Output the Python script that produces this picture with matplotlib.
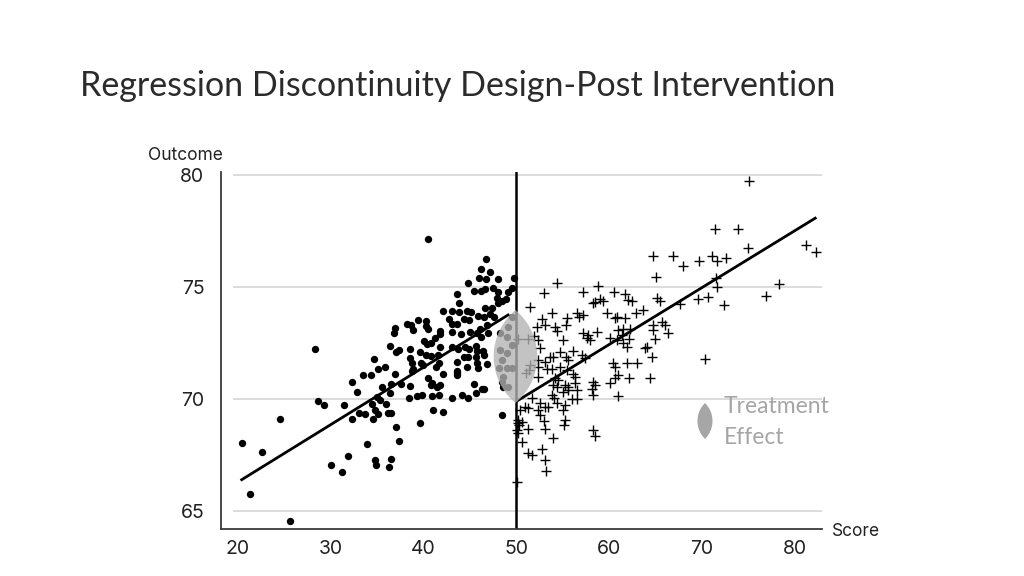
import numpy as np
import matplotlib
matplotlib.use("Agg")
import matplotlib.pyplot as plt
from matplotlib.patches import Polygon

# ---------------- data ----------------
left_score = [28.3, 33.5, 32.3, 32.86, 28.6, 29.24, 31.4, 24.5, 20.4, 22.6, 21.3, 25.6, 30.0, 31.2, 31.9,
              33.9, 33.0, 33.7, 32.3,
              34.66, 35.05, 34.3, 35.84, 36.95, 36.45, 37.53, 35.47, 36.38, 35.0, 35.34, 34.4, 35.95, 34.8,
              35.05, 36.2, 36.45, 34.5, 36.99, 37.35, 34.8, 34.9, 36.49, 36.27, 36.93, 36.8, 36.4, 37.38, 37.0,
              40.44, 46.76, 46.2, 47.2, 46.0, 46.7, 48.05, 49.7, 44.8, 43.6, 45.43, 46.19, 46.65, 47.45, 48.05,
              49.13, 49.49, 47.94, 48.41, 48.05, 48.88, 43.85,
              42.13, 43.1, 43.85, 44.64, 45.07, 46.6, 47.37, 45.9, 46.5, 47.16, 47.59, 42.77, 43.06, 43.63,
              44.39, 44.86, 39.4, 40.23, 40.23, 38.18, 38.61, 38.83, 40.5, 41.77, 41.77, 43.03, 44.06, 45.0,
              45.72, 46.08, 46.8, 46.95, 46.19,
              40.08, 40.83, 41.26, 40.4, 38.53, 39.61, 40.26, 40.8, 41.8, 41.52, 43.03, 43.74, 44.5, 44.93,
              45.65, 45.79, 46.43, 44.35, 44.75, 45.65, 46.54,
              38.53, 38.72, 39.69, 39.97, 41.67, 41.37, 43.63, 43.57, 44.64, 45.73, 45.9, 46.8, 38.9, 38.72,
              40.44, 40.87, 41.41, 40.8, 41.73, 42.06, 43.63, 43.57, 45.43, 46.51, 38.53,
              38.46, 39.25, 39.86, 40.9, 41.63, 43.06, 44.14, 44.75, 45.65, 46.26, 41.05, 42.12, 39.61, 48.41,
              49.5, 49.13, 48.23, 48.95, 49.5, 48.23, 48.95, 48.41, 49.5, 48.12, 48.95, 48.59, 48.41, 49.13, 48.59]
left_outcome = [72.22, 71.08, 70.76, 70.31, 69.92, 69.75, 69.75, 69.12, 68.05, 67.62, 65.75, 64.54, 67.04, 66.74, 67.46,
                67.98, 69.39, 69.34, 69.09,
                71.77, 71.35, 71.06, 71.44, 71.1, 70.68, 70.68, 70.55, 70.28, 70.1, 69.96, 69.8, 69.76, 69.5,
                69.33, 69.39, 69.39, 69.1, 68.74, 68.12, 67.28, 67.04, 67.31, 66.98, 73.15, 72.93, 72.38, 72.19, 72.1,
                77.13, 76.24, 75.79, 75.67, 75.42, 75.34, 75.34, 75.42, 75.16, 74.67, 74.82, 74.83, 74.9, 74.97, 74.78,
                74.78, 74.97, 74.52, 74.38, 74.27, 74.45, 74.27,
                73.94, 73.93, 73.88, 73.91, 73.87, 74.04, 74.08, 73.7, 73.65, 73.78, 73.65, 73.56, 73.33, 73.33,
                73.56, 73.53, 73.53, 73.5, 73.26, 73.33, 73.32, 73.1, 73.14, 73.05, 72.9, 73.0, 72.92, 72.99,
                72.93, 73.11, 73.3, 72.93, 72.75,
                72.59, 72.51, 72.71, 72.44, 72.24, 72.08, 71.95, 71.9, 72.33, 71.95, 72.33, 72.22, 72.33, 72.22,
                72.37, 72.14, 72.16, 71.89, 71.86, 71.86, 71.96,
                71.83, 71.62, 71.62, 71.5, 71.62, 71.44, 71.67, 71.24, 71.41, 71.62, 71.4, 71.55, 71.33, 71.24,
                70.95, 70.7, 70.55, 70.61, 70.63, 71.12, 71.15, 71.06, 70.67, 70.43, 70.6,
                70.03, 70.15, 70.18, 70.13, 70.16, 70.06, 70.18, 70.06, 70.25, 70.43, 69.5, 69.43, 68.94, 69.29,
                73.67, 73.23, 72.93, 72.78, 72.41, 72.19, 72.04, 71.74, 71.37, 71.37, 71.37, 71.0, 70.77, 70.55, 70.55]

right_score = [54.34, 53.0, 58.82, 57.14, 58.47, 58.29, 59.0, 51.47, 53.8, 56.48, 57.2, 56.77, 52.79, 53.08, 52.19,
               55.42, 55.35, 54.16, 54.34, 57.2, 57.75, 58.65, 57.57, 57.93, 51.93, 52.36, 52.54, 51.28, 50.2,
               55.06, 56.13, 57.1, 57.39, 54.7, 55.35, 55.6, 52.36, 53.08, 53.62, 53.98, 52.36, 53.26, 53.8,
               54.7, 55.42, 56.13, 56.31, 51.47, 51.36, 51.0,
               52.3, 54.16, 54.52, 53.98, 54.34, 55.24, 55.53, 55.06, 55.6, 56.31, 56.5, 58.29, 58.47, 58.18,
               58.29, 53.8, 54.08, 54.34, 51.65, 52.54, 53.08, 53.44, 55.94, 56.48, 55.24, 55.06, 50.39, 51.28,
               50.93, 52.36, 52.54, 50.2, 50.57, 50.2, 50.3, 51.28, 53.0, 53.08, 55.24, 55.17, 50.2, 50.1,
               58.29, 58.47, 53.98, 50.57, 52.72, 51.28, 51.65, 53.08, 53.15, 50.1,
               64.69, 66.91, 68.0, 65.04, 69.71, 60.55, 61.7, 62.42, 62.06, 59.3, 65.11, 65.47, 67.63, 59.73,
               60.63, 60.8, 61.7, 62.9, 63.68, 64.69, 64.76, 65.66, 66.01, 66.37, 60.98, 61.52, 62.24, 61.34,
               60.09, 60.8, 62.17, 61.52, 61.88, 64.94, 64.04, 63.86, 64.58, 60.44, 60.63, 61.88, 63.03, 60.98,
               60.63, 60.09, 62.17, 64.4, 60.98,
               75.1, 71.4, 73.85, 74.99, 81.2, 82.25, 71.05, 71.66, 72.59, 71.5, 71.57, 78.33, 76.86, 72.4,
               69.6, 70.68, 70.32]
right_outcome = [75.19, 74.75, 75.04, 74.79, 74.34, 74.27, 74.45, 74.09, 73.85, 73.83, 73.75, 73.67, 73.56, 73.3, 73.23,
                 73.63, 73.3, 73.23, 73.04, 72.96, 72.86, 73.0, 72.71, 72.63, 72.81, 72.63, 72.26, 72.67, 72.67,
                 72.63, 72.16, 71.96, 71.82, 72.11, 71.86, 71.74, 71.74, 71.67, 71.86, 71.86, 71.44, 71.35, 71.33,
                 71.44, 71.29, 71.12, 70.97, 71.52, 71.29, 71.15,
                 71.0, 70.92, 70.85, 70.63, 70.55, 70.63, 70.52, 70.33, 70.4, 70.7, 70.4, 70.77, 70.63, 70.43,
                 70.17, 70.18, 70.03, 69.81, 70.03, 69.81, 69.66, 69.63, 69.99, 69.99, 69.73, 69.51, 69.51, 69.58,
                 69.66, 69.51, 69.29, 69.06, 68.99, 68.92, 68.84, 68.65, 69.03, 68.65, 69.06, 68.84, 68.47, 68.62,
                 68.62, 68.35, 68.24, 68.1, 67.75, 67.58, 67.5, 67.28, 66.79, 66.3,
                 76.38, 76.38, 75.95, 75.46, 76.16, 74.78, 74.67, 74.38, 74.42, 74.38, 74.52, 74.38, 74.23, 73.83,
                 73.6, 73.67, 73.6, 73.83, 73.97, 73.3, 73.08, 73.45, 73.3, 72.93, 73.08, 73.11, 73.11, 72.86,
                 72.71, 72.63, 72.67, 72.49, 72.33, 72.67, 72.33, 72.26, 71.89, 71.59, 71.44, 71.59, 71.59, 71.07,
                 70.92, 70.7, 70.92, 70.92, 70.15,
                 79.73, 77.57, 77.59, 76.75, 76.88, 76.58, 76.4, 76.17, 76.28, 75.39, 74.99, 75.13, 74.6, 74.2,
                 74.48, 74.55, 71.77]

# fitted lines (end points)
left_fit_score = [20.4, 49.1]
left_fit_outcome = [66.4, 73.75]
right_fit_score = [50.1, 82.2]
right_fit_outcome = [69.92, 78.07]

cutoff = 50
effect_low, effect_high = 69.82, 73.97

x_ticks = [20, 30, 40, 50, 60, 70, 80]
y_ticks = [65, 70, 75, 80]

title = "Regression Discontinuity Design-Post Intervention"

# ---------------- drawing ----------------
plt.rcParams['font.family'] = ['Inter', 'DejaVu Sans']

fig = plt.figure(figsize=(10.24, 5.76), dpi=100)
ax = fig.add_axes([221 / 1024, 1 - 529 / 576, (822 - 221) / 1024, (529 - 172) / 576])
ax.set_xlim(18.17, 82.93)
ax.set_ylim(64.2, 80.13)

for s in ['top', 'right']:
    ax.spines[s].set_visible(False)
for s in ['left', 'bottom']:
    ax.spines[s].set_color('#3a3a3a')
    ax.spines[s].set_linewidth(1.3)

ax.set_xticks(x_ticks)
ax.set_yticks(y_ticks)
ax.tick_params(axis='both', length=0, labelsize=14, colors='#222222')
ax.tick_params(axis='y', pad=12)
ax.tick_params(axis='x', pad=8)

ax.hlines(y_ticks, 19.5, 82.93, color='#d9d9d9', lw=1.3, zorder=0)
ax.axvline(cutoff, color='black', lw=1.8, zorder=2)

ax.scatter(left_score, left_outcome, s=28, c='black', marker='o', linewidths=0, zorder=3)
ax.scatter(right_score, right_outcome, s=45, c='black', marker='+', linewidths=1.0, zorder=3)

ax.plot(left_fit_score, left_fit_outcome, color='black', lw=2.0, zorder=4)
ax.plot(right_fit_score, right_fit_outcome, color='black', lw=2.0, zorder=4)


def lens(cx, cy, half_w, half_h, ratio):
    t = np.linspace(-1, 1, 100)
    R = (1 + ratio ** 2) / (2 * ratio)
    f = (np.sqrt(R ** 2 - t ** 2) - (R - ratio)) / ratio
    xs = np.concatenate([cx + half_w * f, (cx - half_w * f)[::-1]])
    ys = np.concatenate([cy + half_h * t, (cy + half_h * t)[::-1]])
    return np.column_stack([xs, ys])


cy = (effect_low + effect_high) / 2
hh = (effect_high - effect_low) / 2
ax.add_patch(Polygon(lens(cutoff - 0.1, cy, 2.35, hh, 0.45), closed=True,
                     facecolor='#b3b3b3', edgecolor='none', alpha=0.78, zorder=5))

# legend-like annotation
ax.add_patch(Polygon(lens(70.32, 69.02, 0.81, 0.80, 0.42), closed=True,
                     facecolor='#a6a6a6', edgecolor='none', zorder=5, clip_on=False))
ax.text(72.37, 68.97, "Treatment\nEffect", ha='left', va='center', fontsize=16.5,
        color='#a6a6a6', family=['Lato', 'DejaVu Sans'], linespacing=1.6, zorder=6)

fig.text(148 / 1024, 1 - 155 / 576, "Outcome", ha='left', va='center', fontsize=12.5, color='#222222')
fig.text(832 / 1024, 1 - 531 / 576, "Score", ha='left', va='center', fontsize=12.5, color='#222222')

fig.text(80 / 1024, 1 - 86 / 576, title, ha='left', va='center', fontsize=24.5,
         color='#2b2b2b', family=['Lato', 'DejaVu Sans'])

fig.savefig("out.png", dpi=100)
